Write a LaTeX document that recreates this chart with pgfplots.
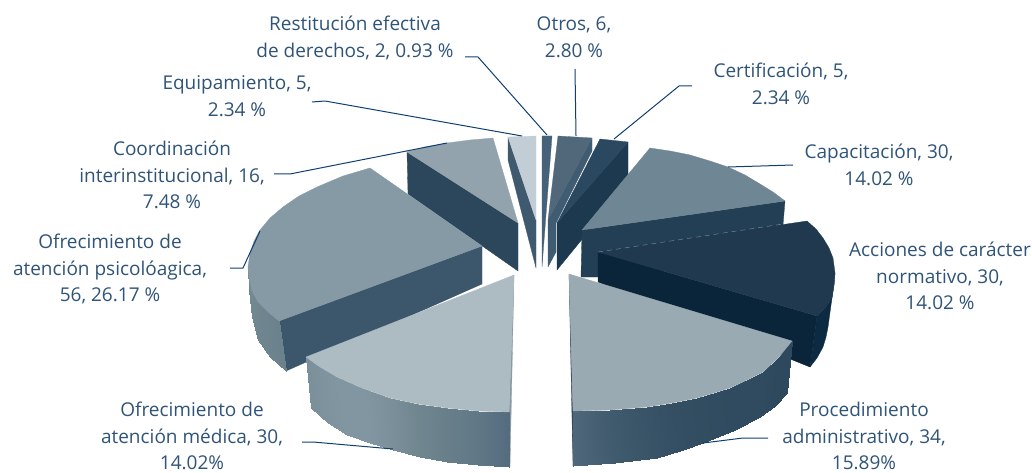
\documentclass[border=0pt]{standalone}
\usepackage{pgfplots}
\pgfplotsset{compat=1.18}
\usepackage{fontspec}
\setmainfont{Open Sans}
\definecolor{txt}{HTML}{2F5478}
\definecolor{lead}{HTML}{0F3F70}
\definecolor{gapc}{HTML}{6F8494}
\pgfplotsset{
  colormap={ramp}{rgb255(0)=(42,69,89) rgb255(1)=(62,88,108) rgb255(2)=(86,110,128) rgb255(3)=(112,134,143) rgb255(4)=(147,166,178)},
  face/.style={/utils/exec={\definecolor{fc}{HTML}{#1}},fill=fc,draw=fc,line width=0.3pt,line join=round,no marks,forget plot},
  wall/.style={surf,shader=interp,mesh/rows=2,point meta=explicit,forget plot},
  ld/.style={draw=lead,line width=1pt,no marks,line join=round,forget plot}
}
\tikzset{lab/.style={text=txt,align=center,font=\fontsize{19}{26.5}\selectfont,inner sep=0pt,anchor=center}}
\begin{document}
\begin{tikzpicture}
\begin{axis}[width=1032pt,height=473pt,scale only axis,xmin=0,xmax=1032,ymin=0,ymax=473,y dir=reverse,hide axis,clip=false,point meta min=0,point meta max=4,colormap name=ramp]
\addplot[draw=none,no marks,forget plot] coordinates {(0,0) (1032,473)};
% Otros
\addplot[face=3F5C72] coordinates {(592,138) (592,151) (556,223) (556,252) (548,267) (548,220) (592,138)};
\addplot[face=50687A] coordinates {(558,136) (592,138) (548,220) (558,136)};
% Restitucion
\addplot[face=46627A] coordinates {(542,136) (552,136) (542,267) (542,136)};
% Equipamiento
\addplot[face=3F5A6E] coordinates {(508,137) (536,220) (536,268) (508,160) (508,137)};
\addplot[face=C2CDD5] coordinates {(508,137) (536,136) (536,220) (508,137)};
% Certificacion
\addplot[face=1C3950] coordinates {(628,142) (628,183) (557,270) (557,223) (628,142)};
\addplot[face=2A4860] coordinates {(600,139) (628,142) (557,223) (600,139)};
% Coordinacion
\addplot[face=2C475C] coordinates {(407,152) (518,223) (518,271) (408,194) (407,152)};
\addplot[face=92A3AD] coordinates {(407,152) (425,147) (447,143) (470,140) (493,138) (518,223) (407,152)};
% Capacitacion
\addplot[face=223F55] coordinates {(582,230) (785,201) (783,225) (783,260) (597,277) (581,277) (582,230)};
\addplot[face=6F8695] coordinates {(582,230) (650,148) (670,151) (690,155) (710,161) (728,167) (745,175) (760,184) (773,192) (785,201) (582,230)};
% Psicologica
\addplot[face=3C566B] coordinates {(279,321) (482,246) (482,284) (286,371) (279,321)};
\addplot[wall] table[meta=m] {
x y m
248 267 3.1
249 278 3.1
252 291 3.1
258 302 3
268 312 2.9
279 321 2.8
248 267 3.1
249 290 3.1
252 317 3.1
258 340 3
270 357 2.9
286 371 2.8
};
\addplot[face=869AA5] coordinates {(482,246) (370,168) (343,176) (317,187) (299,196) (283,207) (270,218) (260,230) (254,241) (250,253) (248,267) (249,278) (252,291) (258,302) (268,312) (279,321) (482,246)};
% Acciones
\addplot[face=0C2A42] coordinates {(835,273) (834,285) (832,297) (826,307) (817,316) (810,367) (817,358) (823,347) (826,337) (828,327) (831,305) (834,285) (835,273)};
\addplot[face=0A243A] coordinates {(598,252) (817,316) (810,367) (598,282) (598,252)};
\addplot[face=21394F] coordinates {(598,252) (807,221) (816,229) (823,238) (829,248) (833,258) (835,273) (834,285) (832,297) (826,307) (817,316) (598,252)};
\addplot[draw=gapc,line width=0.5pt,dash pattern=on 5pt off 4pt,no marks,forget plot] coordinates {(598,252) (783,224)};
% Medica
\addplot[face=8A9AA5] coordinates {(514,275) (509,412) (510,467) (514,275)};
\addplot[wall] table[meta=m] {
x y m
306 357 3.3
320 367 3.4
337 377 3.5
362 388 3.5
390 398 3.3
418 404 3
447 408 2.7
478 411 2.4
509 412 1.9
311 408 3.3
328 423 3.4
347 435 3.5
370 443 3.5
393 450 3.3
420 457 3
447 462 2.7
478 465 2.4
509 467 1.9
};
\addplot[face=ADBBC3] coordinates {(514,275) (306,357) (320,367) (337,377) (362,388) (390,398) (418,404) (447,408) (478,411) (509,412) (514,275)};
% Procedimiento
\addplot[face=30495C] coordinates {(569,274) (573,411) (573,466) (569,274)};
\addplot[wall] table[meta=m] {
x y m
573 411 1.7
610 410 1.1
647 407 0.7
672 403 0.5
697 398 0.4
730 388 0.3
763 372 0.3
779 357 0.2
792 341 0.2
573 466 1.7
615 463 1.1
657 458 0.7
680 451 0.5
703 443 0.4
735 430 0.3
760 417 0.3
775 406 0.2
787 393 0.2
};
\addplot[face=9AAAB3] coordinates {(569,274) (792,341) (779,357) (763,372) (747,380) (730,388) (714,393) (697,398) (672,403) (647,407) (610,410) (573,411) (569,274)};
% leader lines
\addplot[ld] coordinates {(465,57) (478,57) (547,135)};
\addplot[ld] coordinates {(575,69) (576,136)};
\addplot[ld] coordinates {(692,86) (679,86) (614,139)};
\addplot[ld] coordinates {(312,102) (325,101) (522,136)};
\addplot[ld] coordinates {(274,174) (290,174) (447,143)};
\addplot[ld] coordinates {(230,268) (243,268) (260,231)};
\addplot[ld] coordinates {(793,165) (728,167)};
\addplot[ld] coordinates {(302,442) (313,442) (393,449)};
\addplot[ld] coordinates {(768,438) (743,438) (703,443)};
% labels
\node[lab] at (axis cs:355,38) {Restitución efectiva\\de derechos, 2, 0.93 \%};
\node[lab] at (axis cs:237,96) {Equipamiento, 5,\\2.34 \%};
\node[lab] at (axis cs:172,175) {Coordinación\\interinstitucional, 16,\\7.48 \%};
\node[lab] at (axis cs:110,269) {Ofrecimiento de\\atención psicolóagica,\\56, 26.17 \%};
\node[lab] at (axis cs:192,436) {Ofrecimiento de\\atención médica, 30,\\14.02\%};
\node[lab] at (axis cs:864,436) {Procedimiento\\administrativo, 34,\\15.89\%};
\node[lab] at (axis cs:940,276) {Acciones de carácter\\normativo, 30,\\14.02 \%};
\node[lab] at (axis cs:879,165) {Capacitación, 30,\\14.02 \%};
\node[lab] at (axis cs:781,84) {Certificación, 5,\\2.34 \%};
\node[lab] at (axis cs:574,37) {Otros, 6,\\2.80 \%};
\end{axis}
\end{tikzpicture}
\end{document}
